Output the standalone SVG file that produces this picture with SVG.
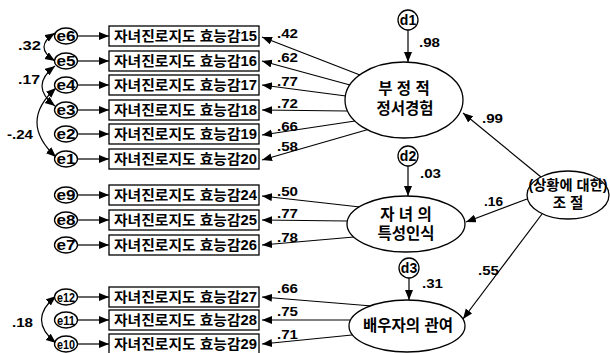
<svg xmlns="http://www.w3.org/2000/svg" width="610" height="353" viewBox="0 0 610 353">
<defs>
<marker id="ah" markerUnits="userSpaceOnUse" markerWidth="11" markerHeight="9" refX="10" refY="4" orient="auto-start-reverse" viewBox="0 0 11 9">
<path d="M0,0 L10,4 L0,8 z" fill="#000"/>
</marker>
<style>
text{font-family:"Liberation Sans","Noto Sans CJK KR",sans-serif;font-weight:bold;fill:#000}
.bx{fill:#fff;stroke:#000;stroke-width:1.3}
.ov{fill:#fff;stroke:#000;stroke-width:1.3}
.ln{stroke:#000;stroke-width:1.2;fill:none;marker-end:url(#ah)}
.cv{stroke:#000;stroke-width:1.2;fill:none;marker-start:url(#ah);marker-end:url(#ah)}
.bt{font-size:14px}
.et{font-size:14px}
.lb{font-size:13.5px}
.lt{font-size:15.5px;text-anchor:middle}
</style>
</defs>
<rect width="610" height="353" fill="#fff"/>

<g id="connectors">
<line class="ln" x1="77" y1="36" x2="109" y2="36"/>
<line class="ln" x1="77" y1="61" x2="109" y2="61"/>
<line class="ln" x1="77" y1="85" x2="109" y2="85"/>
<line class="ln" x1="77" y1="110" x2="109" y2="110"/>
<line class="ln" x1="77" y1="134" x2="109" y2="134"/>
<line class="ln" x1="77" y1="159" x2="109" y2="159"/>
<line class="ln" x1="77" y1="195" x2="109" y2="195"/>
<line class="ln" x1="77" y1="220" x2="109" y2="220"/>
<line class="ln" x1="77" y1="245" x2="109" y2="245"/>
<line class="ln" x1="77" y1="297" x2="109" y2="297"/>
<line class="ln" x1="77" y1="320" x2="109" y2="320"/>
<line class="ln" x1="77" y1="344" x2="109" y2="344"/>
<line class="ln" x1="360" y1="75" x2="262" y2="37"/>
<line class="ln" x1="350" y1="85" x2="262" y2="61"/>
<line class="ln" x1="346" y1="96" x2="262" y2="85"/>
<line class="ln" x1="347" y1="111" x2="262" y2="110"/>
<line class="ln" x1="355" y1="121" x2="262" y2="135"/>
<line class="ln" x1="368" y1="129.5" x2="262" y2="160"/>
<line class="ln" x1="360" y1="207" x2="262" y2="196"/>
<line class="ln" x1="347" y1="221" x2="262" y2="220"/>
<line class="ln" x1="354" y1="237" x2="262" y2="245"/>
<line class="ln" x1="372" y1="306" x2="262" y2="297"/>
<line class="ln" x1="351" y1="320" x2="262" y2="320"/>
<line class="ln" x1="352" y1="335" x2="262" y2="344"/>
<line class="ln" x1="408" y1="30" x2="408" y2="62"/>
<line class="ln" x1="408" y1="166" x2="408" y2="196"/>
<line class="ln" x1="409" y1="278" x2="409" y2="300"/>
<line class="ln" x1="541" y1="177" x2="463" y2="113"/>
<line class="ln" x1="527" y1="199" x2="466" y2="222"/>
<line class="ln" x1="542" y1="214" x2="463" y2="319"/>
<path class="cv" d="M55,33 Q33,47 55,61"/>
<path class="cv" d="M55,66 Q29,86 55,106"/>
<path class="cv" d="M56,88 Q18,122 56,157"/>
<path class="cv" d="M56,296 Q27,320 56,343"/>
</g>

<g id="labels">
<text class="lb" x="18" y="50" textLength="23" lengthAdjust="spacingAndGlyphs">.32</text>
<text class="lb" x="18" y="84" textLength="22" lengthAdjust="spacingAndGlyphs">.17</text>
<text class="lb" x="7" y="139" textLength="26" lengthAdjust="spacingAndGlyphs">-.24</text>
<text class="lb" x="12" y="327" textLength="21" lengthAdjust="spacingAndGlyphs">.18</text>
<text class="lb" x="277" y="38" textLength="21" lengthAdjust="spacingAndGlyphs">.42</text>
<text class="lb" x="277" y="62" textLength="21" lengthAdjust="spacingAndGlyphs">.62</text>
<text class="lb" x="277" y="86" textLength="21" lengthAdjust="spacingAndGlyphs">.77</text>
<text class="lb" x="277" y="108" textLength="21" lengthAdjust="spacingAndGlyphs">.72</text>
<text class="lb" x="277" y="131" textLength="21" lengthAdjust="spacingAndGlyphs">.66</text>
<text class="lb" x="277" y="151" textLength="21" lengthAdjust="spacingAndGlyphs">.58</text>
<text class="lb" x="277" y="196" textLength="21" lengthAdjust="spacingAndGlyphs">.50</text>
<text class="lb" x="277" y="218" textLength="21" lengthAdjust="spacingAndGlyphs">.77</text>
<text class="lb" x="277" y="242" textLength="21" lengthAdjust="spacingAndGlyphs">.78</text>
<text class="lb" x="277" y="293" textLength="21" lengthAdjust="spacingAndGlyphs">.66</text>
<text class="lb" x="277" y="316" textLength="21" lengthAdjust="spacingAndGlyphs">.75</text>
<text class="lb" x="277" y="339" textLength="21" lengthAdjust="spacingAndGlyphs">.71</text>
<text class="lb" x="419" y="47" textLength="21" lengthAdjust="spacingAndGlyphs">.98</text>
<text class="lb" x="420" y="178" textLength="21" lengthAdjust="spacingAndGlyphs">.03</text>
<text class="lb" x="422" y="288" textLength="21" lengthAdjust="spacingAndGlyphs">.31</text>
<text class="lb" x="482" y="123" textLength="21" lengthAdjust="spacingAndGlyphs">.99</text>
<text class="lb" x="484" y="206" textLength="19" lengthAdjust="spacingAndGlyphs">.16</text>
<text class="lb" x="478" y="275" textLength="21" lengthAdjust="spacingAndGlyphs">.55</text>
</g>

<g id="e1"><ellipse class="ov" cx="66" cy="159" rx="11.5" ry="8"/><text class="et" x="56.5" y="164" textLength="19" lengthAdjust="spacingAndGlyphs">e1</text></g>
<g id="e2"><ellipse class="ov" cx="66" cy="134" rx="11.5" ry="8"/><text class="et" x="56.5" y="139" textLength="19" lengthAdjust="spacingAndGlyphs">e2</text></g>
<g id="e3"><ellipse class="ov" cx="66" cy="110" rx="11.5" ry="8"/><text class="et" x="56.5" y="115" textLength="19" lengthAdjust="spacingAndGlyphs">e3</text></g>
<g id="e4"><ellipse class="ov" cx="66" cy="85" rx="11.5" ry="8"/><text class="et" x="56.5" y="90" textLength="19" lengthAdjust="spacingAndGlyphs">e4</text></g>
<g id="e5"><ellipse class="ov" cx="66" cy="61" rx="11.5" ry="8"/><text class="et" x="56.5" y="66" textLength="19" lengthAdjust="spacingAndGlyphs">e5</text></g>
<g id="e6"><ellipse class="ov" cx="66" cy="36" rx="11.5" ry="8"/><text class="et" x="56.5" y="41" textLength="19" lengthAdjust="spacingAndGlyphs">e6</text></g>
<g id="e7"><ellipse class="ov" cx="66" cy="245" rx="11.5" ry="8"/><text class="et" x="56.5" y="250" textLength="19" lengthAdjust="spacingAndGlyphs">e7</text></g>
<g id="e8"><ellipse class="ov" cx="66" cy="220" rx="11.5" ry="8"/><text class="et" x="56.5" y="225" textLength="19" lengthAdjust="spacingAndGlyphs">e8</text></g>
<g id="e9"><ellipse class="ov" cx="66" cy="195" rx="11.5" ry="8"/><text class="et" x="56.5" y="200" textLength="19" lengthAdjust="spacingAndGlyphs">e9</text></g>
<g id="e10"><ellipse class="ov" cx="66" cy="344" rx="11.5" ry="8"/><text class="et" x="57" y="348.5" textLength="18" lengthAdjust="spacingAndGlyphs" style="font-size:12px">e10</text></g>
<g id="e11"><ellipse class="ov" cx="66" cy="320" rx="11.5" ry="8"/><text class="et" x="57" y="324.5" textLength="18" lengthAdjust="spacingAndGlyphs" style="font-size:12px">e11</text></g>
<g id="e12"><ellipse class="ov" cx="66" cy="297" rx="11.5" ry="8"/><text class="et" x="57" y="301.5" textLength="18" lengthAdjust="spacingAndGlyphs" style="font-size:12px">e12</text></g>

<g id="v15"><rect class="bx" x="109" y="26" width="150" height="20"/><text class="bt" x="114" y="41" textLength="143" lengthAdjust="spacingAndGlyphs">자녀진로지도 효능감15</text></g>
<g id="v16"><rect class="bx" x="109" y="51" width="150" height="20"/><text class="bt" x="114" y="66" textLength="143" lengthAdjust="spacingAndGlyphs">자녀진로지도 효능감16</text></g>
<g id="v17"><rect class="bx" x="109" y="75" width="150" height="20"/><text class="bt" x="114" y="90" textLength="143" lengthAdjust="spacingAndGlyphs">자녀진로지도 효능감17</text></g>
<g id="v18"><rect class="bx" x="109" y="100" width="150" height="20"/><text class="bt" x="114" y="115" textLength="143" lengthAdjust="spacingAndGlyphs">자녀진로지도 효능감18</text></g>
<g id="v19"><rect class="bx" x="109" y="124" width="150" height="20"/><text class="bt" x="114" y="139" textLength="143" lengthAdjust="spacingAndGlyphs">자녀진로지도 효능감19</text></g>
<g id="v20"><rect class="bx" x="109" y="149" width="150" height="20"/><text class="bt" x="114" y="164" textLength="143" lengthAdjust="spacingAndGlyphs">자녀진로지도 효능감20</text></g>
<g id="v24"><rect class="bx" x="109" y="185" width="150" height="20"/><text class="bt" x="114" y="200" textLength="143" lengthAdjust="spacingAndGlyphs">자녀진로지도 효능감24</text></g>
<g id="v25"><rect class="bx" x="109" y="210" width="150" height="20"/><text class="bt" x="114" y="225" textLength="143" lengthAdjust="spacingAndGlyphs">자녀진로지도 효능감25</text></g>
<g id="v26"><rect class="bx" x="109" y="235" width="150" height="20"/><text class="bt" x="114" y="250" textLength="143" lengthAdjust="spacingAndGlyphs">자녀진로지도 효능감26</text></g>
<g id="v27"><rect class="bx" x="109" y="287" width="150" height="20"/><text class="bt" x="114" y="302" textLength="143" lengthAdjust="spacingAndGlyphs">자녀진로지도 효능감27</text></g>
<g id="v28"><rect class="bx" x="109" y="310" width="150" height="20"/><text class="bt" x="114" y="325" textLength="143" lengthAdjust="spacingAndGlyphs">자녀진로지도 효능감28</text></g>
<g id="v29"><rect class="bx" x="109" y="334" width="150" height="20"/><text class="bt" x="114" y="349" textLength="143" lengthAdjust="spacingAndGlyphs">자녀진로지도 효능감29</text></g>

<g id="d1"><ellipse class="ov" cx="408" cy="20" rx="10" ry="10"/><text class="et" x="408" y="25" text-anchor="middle">d1</text></g>
<g id="d2"><ellipse class="ov" cx="408" cy="156" rx="10" ry="10"/><text class="et" x="408" y="161" text-anchor="middle">d2</text></g>
<g id="d3"><ellipse class="ov" cx="409" cy="268" rx="10" ry="10"/><text class="et" x="409" y="273" text-anchor="middle">d3</text></g>

<g id="negemo"><ellipse class="ov" cx="404" cy="100" rx="59" ry="38"/><text class="lt" x="404" y="94">부 정 적</text><text class="lt" x="405" y="114">정서경험</text></g>
<g id="childtrait"><ellipse class="ov" cx="406" cy="224" rx="59" ry="28"/><text class="lt" x="406" y="220">자 녀 의</text><text class="lt" x="406" y="239">특성인식</text></g>
<g id="spouse"><ellipse class="ov" cx="407" cy="326" rx="58" ry="26"/><text class="lt" x="408" y="331">배우자의 관여</text></g>
<g id="regulation"><ellipse class="ov" cx="568" cy="195" rx="41" ry="24"/><text class="lt" x="568" y="190" style="font-size:14px" textLength="79" lengthAdjust="spacingAndGlyphs">(상황에 대한)</text><text class="lt" x="568" y="208" style="font-size:14.5px">조 절</text></g>
</svg>
